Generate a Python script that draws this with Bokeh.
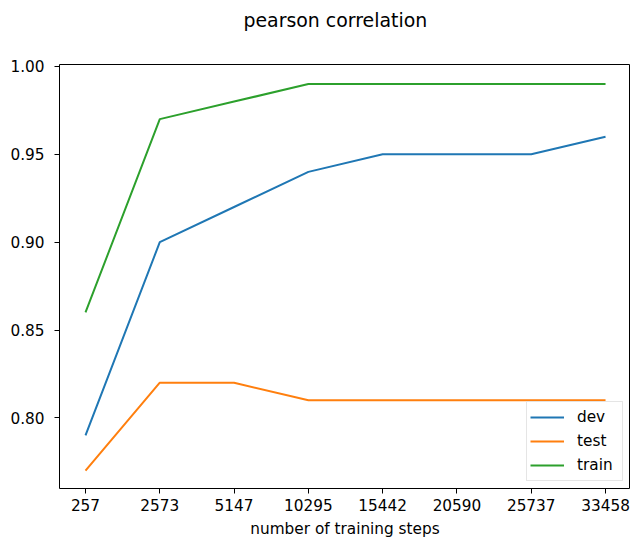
from bokeh.plotting import figure
from bokeh.models import Range1d, FixedTicker, Title, Legend, LegendItem, ColumnDataSource
from bokeh.embed import file_html
from bokeh.resources import INLINE

steps = ["257", "2573", "5147", "10295", "15442", "20590", "25737", "33458"]
dev = [0.79, 0.90, 0.92, 0.94, 0.95, 0.95, 0.95, 0.96]
test = [0.77, 0.82, 0.82, 0.81, 0.81, 0.81, 0.81, 0.81]
train = [0.86, 0.97, 0.98, 0.99, 0.99, 0.99, 0.99, 0.99]
y_ticks = [0.80, 0.85, 0.90, 0.95, 1.00]

idx = list(range(len(steps)))
src = ColumnDataSource(dict(x=idx, dev=dev, test=test, train=train))

FONT = "DejaVu Sans"
FS = "15.3px"
p = figure(width=630, height=540,
           x_range=Range1d(-0.35, 7.336), y_range=Range1d(0.7598, 1.0011),
           output_backend="svg", toolbar_location=None,
           min_border_left=59, min_border_right=0, min_border_top=64, min_border_bottom=50)
p.xgrid.visible = False
p.ygrid.visible = False
p.outline_line_color = "black"
p.outline_line_width = 1
p.background_fill_color = "white"
p.border_fill_color = "white"

# spacer nearest the frame, then the real title above it
spacer = Title(text=" ", text_font=FONT, text_font_size="10px", standoff=12)
p.add_layout(spacer, "above")
title = Title(text="pearson correlation", align="left", offset=184, vertical_align="top",
              text_font=FONT, text_font_size="18.9px", text_font_style="normal",
              text_color="black", standoff=13)
p.add_layout(title, "above")

colors = {"dev": "#1f77b4", "test": "#ff7f0e", "train": "#2ca02c"}
items = []
for name in ["dev", "test", "train"]:
    r = p.line("x", name, source=src, line_color=colors[name], line_width=2)
    items.append(LegendItem(label=name, renderers=[r]))

for ax in (p.xaxis[0], p.yaxis[0]):
    ax.major_label_text_font = FONT
    ax.major_label_text_font_size = FS
    ax.major_label_text_color = "black"
    ax.axis_label_text_font = FONT
    ax.axis_label_text_font_size = FS
    ax.axis_label_text_font_style = "normal"
    ax.axis_label_text_color = "black"
    ax.axis_line_color = None
    ax.major_tick_line_color = "black"
    ax.major_tick_in = 0
    ax.major_tick_out = 5
    ax.minor_tick_line_color = None

p.xaxis.ticker = FixedTicker(ticks=idx)
p.xaxis.major_label_overrides = {i: s for i, s in enumerate(steps)}
p.xaxis.axis_label = "number of training steps"
p.xaxis.major_label_standoff = 5
p.xaxis.axis_label_standoff = 6

p.yaxis.ticker = FixedTicker(ticks=y_ticks)
p.yaxis.major_label_overrides = {v: f"{v:.2f}" for v in y_ticks}
p.yaxis.major_label_standoff = 10

legend = Legend(items=items, location="bottom_right", margin=7, padding=3, spacing=0,
                glyph_width=34, glyph_height=24, label_height=24, label_width=42,
                label_standoff=13, label_text_font=FONT, label_text_font_size=FS,
                label_text_color="black", border_line_color="#cccccc", border_line_width=1,
                background_fill_color="white", background_fill_alpha=0.8)
p.add_layout(legend)

open("out.html", "w").write(file_html(p, INLINE))
